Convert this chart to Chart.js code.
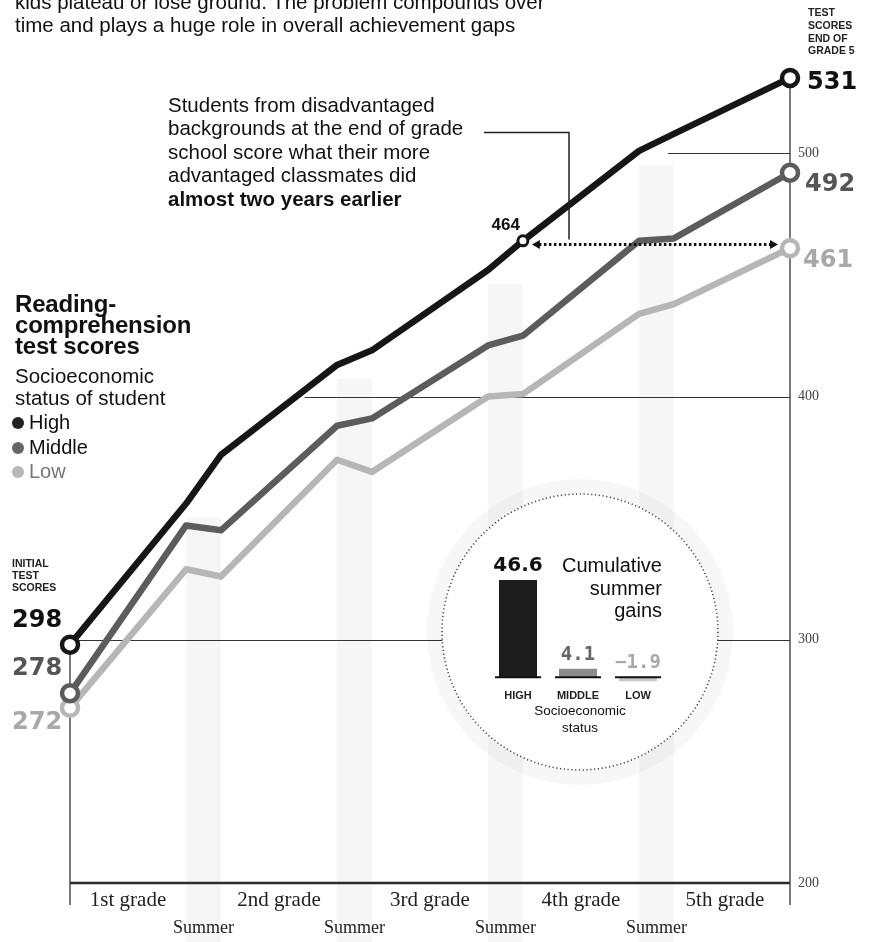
<!DOCTYPE html>
<html><head><meta charset="utf-8">
<script src="https://cdn.jsdelivr.net/npm/chart.js@4.4.1/dist/chart.umd.min.js"></script>
<style>
html,body{margin:0;padding:0;background:#fff;}
#wrap{position:relative;width:871px;height:942px;overflow:hidden;font-family:"Liberation Sans",Arial,sans-serif;color:#111;}
#main{position:absolute;left:0;top:0;width:871px;height:942px;}
#inset{position:absolute;left:470px;top:540px;width:220px;height:200px;}
.t{position:absolute;white-space:nowrap;line-height:1.15;}
.blk{position:absolute;white-space:nowrap;}
.dot{display:inline-block;width:12px;height:12px;border-radius:50%;margin-right:5px;vertical-align:0px;}
</style></head>
<body><div id="wrap">
<canvas id="main" width="871" height="942"></canvas>
<canvas id="inset" width="220" height="200"></canvas>

<div class="blk" style="left:15px;top:-10px;font-size:20.5px;line-height:23px;color:#111;">kids plateau or lose ground. The problem compounds over<br>time and plays a huge role in overall achievement gaps</div>

<div class="blk" style="left:168px;top:93px;font-size:20.5px;line-height:23.4px;color:#111;">Students from disadvantaged<br>backgrounds at the end of grade<br>school score what their more<br>advantaged classmates did<br><b>almost two years earlier</b></div>

<div class="blk" style="left:15px;top:293px;font-size:24px;line-height:21px;font-weight:bold;color:#111;letter-spacing:-0.2px;">Reading-<br>comprehension<br>test scores</div>
<div class="blk" style="left:15px;top:365px;font-size:20.5px;line-height:21.5px;color:#111;">Socioeconomic<br>status of student</div>
<div class="blk" style="left:12px;top:410px;font-size:20px;line-height:24.5px;color:#111;">
<span class="dot" style="background:#222"></span>High<br>
<span class="dot" style="background:#666"></span>Middle<br>
<span class="dot" style="background:#b8b8b8"></span><span style="color:#777">Low</span></div>

<div class="blk" style="left:12px;top:557px;font-size:10.5px;line-height:12px;font-weight:bold;color:#222;">INITIAL<br>TEST<br>SCORES</div>
<div class="blk" style="left:808px;top:6px;font-size:10.5px;line-height:12.8px;font-weight:bold;color:#222;">TEST<br>SCORES<br>END OF<br>GRADE 5</div>

<div class="blk" style="left:540px;top:554px;width:122px;text-align:right;font-size:20px;line-height:22.5px;color:#111;">Cumulative<br>summer<br>gains</div>
<div class="blk" style="left:520px;top:703px;width:120px;text-align:center;font-size:13.5px;line-height:16.5px;color:#111;">Socioeconomic<br>status</div>

</div>
<script>
// ---------- DATA ----------
const months = [0, 10, 13, 23, 26, 36, 39, 49, 52, 62];
const highScores   = [298, 356, 376, 413, 419, 452, 464, 501, 508, 531];
const middleScores = [278, 347, 345, 388, 391, 421, 425, 464, 465, 492];
const lowScores    = [272, 329, 326, 374, 369, 400, 401, 434, 438, 461];
const yTicks = [200, 300, 400, 500];
const gradeLabels = ['1st grade', '2nd grade', '3rd grade', '4th grade', '5th grade'];
const gradeLabelX = [5, 18, 31, 44, 56.4];
const summerLabelX = [11.5, 24.5, 37.5, 50.5];
const summerLabel = 'Summer';
const gainCategories = ['HIGH', 'MIDDLE', 'LOW'];
const gainValues = [46.6, 4.1, -1.9];

// ---------- STYLE ----------
const COL = {high:'#161616', middle:'#5c5c5c', low:'#b6b6b6'};
const gridStart = {500: 51.5, 400: 20.2, 300: 0};
const CIRCLE = {cx:580, cy:632, r:138};
const wrap = document.getElementById('wrap');

function addText(txt, x, y, style, ax, ay){
  const d = document.createElement('div');
  d.className = 't'; d.textContent = txt;
  Object.assign(d.style, style);
  d.style.left = x + 'px'; d.style.top = y + 'px';
  const tx = ax === 'center' ? '-50%' : ax === 'right' ? '-100%' : '0';
  const ty = ay === 'middle' ? '-50%' : ay === 'bottom' ? '-100%' : '0';
  d.style.transform = 'translate(' + tx + ',' + ty + ')';
  wrap.appendChild(d); return d;
}

const toXY = arr => arr.map((v, i) => ({x: months[i], y: v}));
const radiusFor = isHigh => ctx => {
  const i = ctx.dataIndex, n = ctx.dataset.data.length;
  if (i === 0 || i === n - 1) return 8;
  if (isHigh && i === 6) return 5;
  return 0;
};

const decor = {
  id: 'decor',
  beforeDatasetsDraw(chart){
    const {ctx, scales:{x, y}} = chart;
    ctx.save();
    // summer bands
    ctx.fillStyle = 'rgba(0,0,0,0.035)';
    for (let k = 0; k < 4; k++){
      const a = x.getPixelForValue(months[2*k+1]), b = x.getPixelForValue(months[2*k+2]);
      const top = y.getPixelForValue(highScores[2*k+1]) + 14;
      ctx.fillRect(a, top, b - a, 942 - top);
    }
    // gridlines
    ctx.strokeStyle = '#333'; ctx.lineWidth = 1.2;
    const right = x.getPixelForValue(months[months.length-1]);
    [500, 400, 300].forEach(v => {
      const py = Math.round(y.getPixelForValue(v)) + 0.5;
      ctx.beginPath(); ctx.moveTo(x.getPixelForValue(gridStart[v]), py); ctx.lineTo(right, py); ctx.stroke();
    });
    // base axis
    const by = y.getPixelForValue(200);
    const left = x.getPixelForValue(0);
    ctx.lineWidth = 2.4; ctx.strokeStyle = '#2a2a2a';
    ctx.beginPath(); ctx.moveTo(left, by); ctx.lineTo(right, by); ctx.stroke();
    // verticals
    ctx.lineWidth = 1.3; ctx.strokeStyle = '#333';
    ctx.beginPath(); ctx.moveTo(left, y.getPixelForValue(highScores[0]) + 8); ctx.lineTo(left, 905); ctx.stroke();
    ctx.beginPath(); ctx.moveTo(right, y.getPixelForValue(highScores[9]) + 8); ctx.lineTo(right, 905); ctx.stroke();
    // inset circle
    ctx.beginPath(); ctx.arc(CIRCLE.cx, CIRCLE.cy, CIRCLE.r + 8, 0, Math.PI*2);
    ctx.lineWidth = 14; ctx.strokeStyle = 'rgba(0,0,0,0.03)'; ctx.stroke();
    ctx.beginPath(); ctx.arc(CIRCLE.cx, CIRCLE.cy, CIRCLE.r, 0, Math.PI*2);
    ctx.fillStyle = '#fff'; ctx.fill();
    ctx.setLineDash([1.2, 2.6]); ctx.lineWidth = 1.6; ctx.strokeStyle = '#444'; ctx.stroke();
    ctx.restore();
  },
  afterDatasetsDraw(chart){
    const {ctx, scales:{x, y}} = chart;
    ctx.save();
    const ay = y.getPixelForValue((highScores[6] + lowScores[9]) / 2);
    const x0 = x.getPixelForValue(months[6]) + 9, x1 = x.getPixelForValue(months[9]) - 12;
    // connector from annotation
    ctx.strokeStyle = '#222'; ctx.lineWidth = 1.5;
    ctx.beginPath(); ctx.moveTo(484, 132.5); ctx.lineTo(569, 132.5); ctx.lineTo(569, ay - 5); ctx.stroke();
    // dotted arrow
    ctx.setLineDash([2.5, 2.5]); ctx.lineWidth = 3.2; ctx.strokeStyle = '#111';
    ctx.beginPath(); ctx.moveTo(x0 + 7, ay); ctx.lineTo(x1 - 7, ay); ctx.stroke();
    ctx.setLineDash([]); ctx.fillStyle = '#111';
    ctx.beginPath(); ctx.moveTo(x0, ay); ctx.lineTo(x0 + 8, ay - 4.5); ctx.lineTo(x0 + 8, ay + 4.5); ctx.closePath(); ctx.fill();
    ctx.beginPath(); ctx.moveTo(x1, ay); ctx.lineTo(x1 - 8, ay - 4.5); ctx.lineTo(x1 - 8, ay + 4.5); ctx.closePath(); ctx.fill();
    ctx.restore();
  }
};

const mkSet = (label, arr, color, isHigh) => ({
  label, data: toXY(arr), borderColor: color, borderWidth: 6.5,
  borderJoinStyle: 'round', borderCapStyle: 'round', tension: 0, clip: false,
  pointRadius: radiusFor(isHigh), pointBackgroundColor: '#fff',
  pointBorderColor: color, pointBorderWidth: ctx => (ctx.dataIndex === 6 ? 3 : 4.5),
  fill: false
});

const main = new Chart(document.getElementById('main'), {
  type: 'line',
  data: {datasets: [
    mkSet('High', highScores, COL.high, true),
    mkSet('Middle', middleScores, COL.middle, false),
    mkSet('Low', lowScores, COL.low, false)
  ]},
  options: {
    responsive: false, animation: false, devicePixelRatio: 1,
    layout: {padding: {left: 70, right: 0, top: 56, bottom: 59}},
    plugins: {legend: {display: false}, tooltip: {enabled: false}},
    scales: {
      x: {type: 'linear', min: 0, max: 62, display: false},
      y: {type: 'linear', position: 'right', min: 200, max: 540,
          afterBuildTicks: s => { s.ticks = yTicks.map(v => ({value: v})); },
          afterFit: s => { s.width = 81; },
          grid: {display: false, drawTicks: false, tickLength: 0},
          border: {display: false},
          ticks: {padding: 8, color: '#444', font: {family: 'Liberation Serif', size: 14}}}
    }
  },
  plugins: [decor]
});

const baselines = {
  id: 'baselines',
  afterDatasetsDraw(chart){
    const {ctx} = chart; const y0 = chart.scales.y.getPixelForValue(0);
    ctx.save(); ctx.strokeStyle = '#111'; ctx.lineWidth = 2;
    chart.getDatasetMeta(0).data.forEach(b => {
      ctx.beginPath(); ctx.moveTo(b.x - 23, y0); ctx.lineTo(b.x + 23, y0); ctx.stroke();
    });
    ctx.restore();
  }
};

const inset = new Chart(document.getElementById('inset'), {
  type: 'bar',
  data: {labels: gainCategories, datasets: [{
    data: gainValues, backgroundColor: ['#1c1c1c', '#8c8c8c', '#c8c8c8'],
    barPercentage: 0.633, categoryPercentage: 1
  }]},
  options: {
    responsive: false, animation: false, devicePixelRatio: 1,
    layout: {padding: {left: 18, right: 22, top: 33, bottom: 46}},
    plugins: {legend: {display: false}, tooltip: {enabled: false}},
    scales: {x: {display: false}, y: {display: false, min: -8, max: 50}}
  },
  plugins: [baselines]
});

// ---------- HTML TEXT LABELS (positioned via the chart scales) ----------
(function(){
  const xs = main.scales.x, ys = main.scales.y;
  const serif = {fontFamily: '"Liberation Serif", "DejaVu Serif", serif', color: '#222'};
  gradeLabels.forEach((g, i) => addText(g, xs.getPixelForValue(gradeLabelX[i]), 899, Object.assign({fontSize: '21px'}, serif), 'center', 'middle'));
  summerLabelX.forEach(v => addText(summerLabel, xs.getPixelForValue(v), 927, Object.assign({fontSize: '18px'}, serif), 'center', 'middle'));

  const big = {fontFamily: '"DejaVu Sans", sans-serif', fontWeight: 'bold', fontSize: '24px'};
  const lx = xs.getPixelForValue(months[0]), rx = xs.getPixelForValue(months[9]);
  addText(String(highScores[0]), lx - 58, ys.getPixelForValue(highScores[0]) - 25, Object.assign({color: '#111'}, big), 'left', 'middle');
  addText(String(middleScores[0]), lx - 58, ys.getPixelForValue(middleScores[0]) - 25, Object.assign({color: '#555'}, big), 'left', 'middle');
  addText(String(lowScores[0]), lx - 58, ys.getPixelForValue(lowScores[0]) + 14, Object.assign({color: '#a8a8a8'}, big), 'left', 'middle');
  addText(String(highScores[9]), rx + 17, ys.getPixelForValue(highScores[9]) + 4, Object.assign({color: '#111'}, big), 'left', 'middle');
  addText(String(middleScores[9]), rx + 15, ys.getPixelForValue(middleScores[9]) + 11, Object.assign({color: '#555'}, big), 'left', 'middle');
  addText(String(lowScores[9]), rx + 13, ys.getPixelForValue(lowScores[9]) + 12, Object.assign({color: '#a8a8a8'}, big), 'left', 'middle');
  addText(String(highScores[6]), xs.getPixelForValue(months[6]) - 3, ys.getPixelForValue(highScores[6]) - 16,
          {fontWeight: 'bold', fontSize: '17px', color: '#111'}, 'right', 'middle');

  // inset labels
  const ir = document.getElementById('inset').getBoundingClientRect();
  const wr = wrap.getBoundingClientRect();
  const ox = ir.left - wr.left, oy = ir.top - wr.top;
  const iy = inset.scales.y;
  const y0 = iy.getPixelForValue(0) + oy;
  const valStyles = [
    {fontFamily: '"DejaVu Sans", sans-serif', fontWeight: 'bold', fontSize: '20px', color: '#111'},
    {fontFamily: '"DejaVu Sans Mono", monospace', fontWeight: 'bold', fontSize: '19px', color: '#666'},
    {fontFamily: '"DejaVu Sans Mono", monospace', fontWeight: 'bold', fontSize: '19px', color: '#a8a8a8'}
  ];
  inset.getDatasetMeta(0).data.forEach((b, i) => {
    const top = Math.min(b.y, b.base) + oy;
    addText(String(gainValues[i]).replace('-', '\u2212'), b.x + ox, top - 4, valStyles[i], 'center', 'bottom');
    addText(gainCategories[i], b.x + ox, y0 + 18, {fontWeight: 'bold', fontSize: '11px', color: '#222'}, 'center', 'middle');
  });
})();
</script>
</body></html>
